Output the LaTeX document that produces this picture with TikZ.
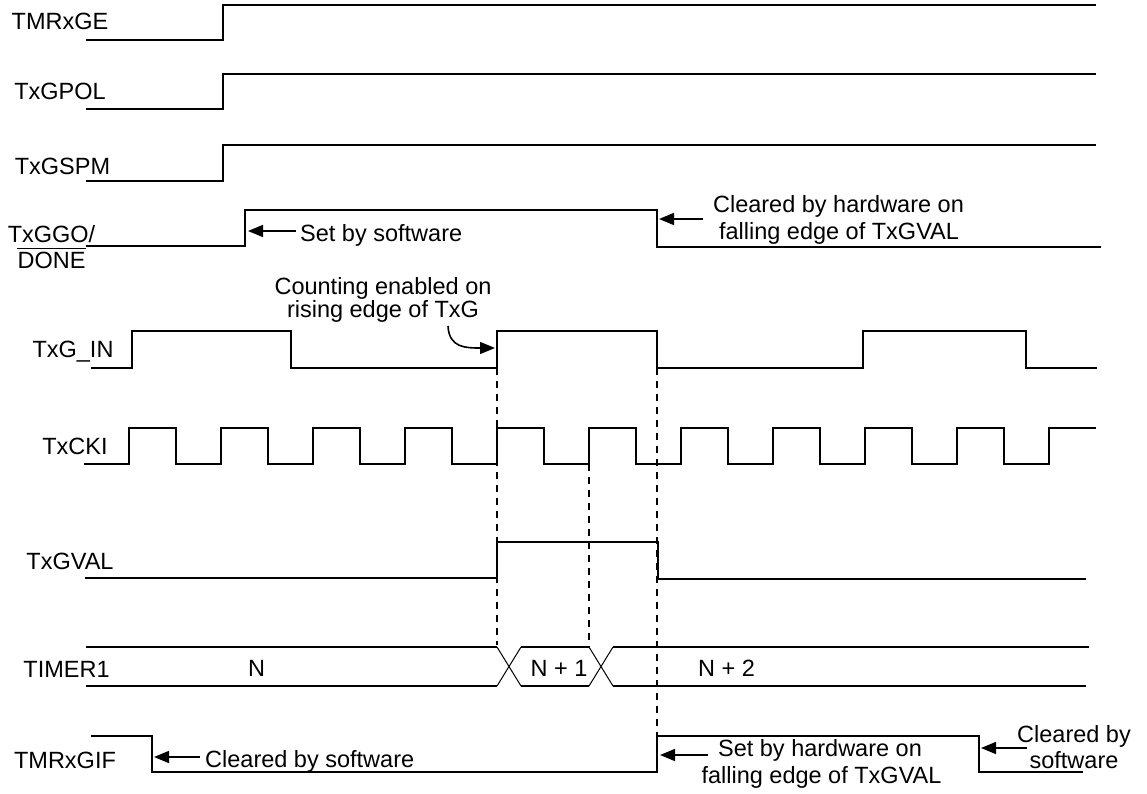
\documentclass[tikz,border=0pt]{standalone}
\usepackage{fontspec}
\setmainfont{Liberation Sans}
\usetikzlibrary{arrows.meta}
\begin{document}
\begin{tikzpicture}[x=1pt,y=-1pt,
  wave/.style={line width=2.2pt, line join=miter},
  xline/.style={line width=1pt},
  guide/.style={line width=2pt, dash pattern=on 7pt off 6pt},
  note/.style={-{Triangle[length=15pt,width=12pt]}, line width=1.6pt},
  lbl/.style={inner sep=0pt, anchor=base, font=\fontsize{23.5}{28}\selectfont}]
\useasboundingbox (0,0) rectangle (1147,794);

% signal names
\node[lbl] (nge)   at (60,29.3)  {TMRxGE};
\node[lbl] (npol)  at (60,100)   {TxGPOL};
\node[lbl] (nspm)  at (62.5,175) {TxGSPM};
\node[lbl] (ngo)   at (51.5,242) {TxGGO/};
\node[lbl] (ndone) at (51.5,268) {DONE};
\draw[line width=1.6pt] ([yshift=3pt]ndone.north west) -- ([yshift=3pt]ndone.north east);
\node[lbl] (nin)   at (73,357)   {TxG\_IN};
\node[lbl] (ncki)  at (75,454)   {TxCKI};
\node[lbl] (nval)  at (70,569)   {TxGVAL};
\node[lbl] (ntmr)  at (66.5,677) {TIMER1};
\node[lbl] (ngif)  at (65,768)   {TMRxGIF};

% waveforms
\draw[wave] (86,40) -- (223,40) -- (223,5) -- (1096,5);
\draw[wave] (86,109) -- (223,109) -- (223,74) -- (1096,74);
\draw[wave] (86,181) -- (223,181) -- (223,145) -- (1096,145);
\draw[wave] (86,246) -- (245,246) -- (245,210) -- (657,210) -- (657,247) -- (1101,247);
\draw[wave] (91,368) -- (132,368) -- (132,331) -- (291,331) -- (291,368) -- (497,368)
  -- (497,331) -- (657,331) -- (657,368) -- (863,368) -- (863,331) -- (1026,331)
  -- (1026,368) -- (1097,368);
% TxCKI clock
\draw[wave] (84,464)
  \foreach \i in {0,...,9} {
    -- ({129+92*\i},464) -- ({129+92*\i},428) -- ({176+92*\i},428) -- ({176+92*\i},464)
  }
  -- (1049,464) -- (1049,428) -- (1096,428);
\draw[wave] (85,578) -- (497,578) -- (497,542) -- (658,542) -- (658,579) -- (1086,579);
% TIMER1 bus
\draw[wave] (86,647) -- (497,647);
\draw[wave] (521,647) -- (589,647);
\draw[wave] (613,647) -- (1089,647);
\draw[wave] (86,686) -- (497,686);
\draw[wave] (521,686) -- (589,686);
\draw[wave] (613,686) -- (1086,686);
\draw[xline] (497,647) -- (521,686);
\draw[xline] (497,686) -- (521,647);
\draw[xline] (589,647) -- (613,686);
\draw[xline] (589,686) -- (613,647);
\node[lbl] (vn)  at (256.5,676) {N};
\node[lbl] (vn1) at (559,676)   {N + 1};
\node[lbl] (vn2) at (726.5,676) {N + 2};
% TMRxGIF
\draw[wave] (91,736) -- (152,736) -- (152,772) -- (657,772) -- (657,736) -- (979,736)
  -- (979,772) -- (1083,772);

% dashed guides
\draw[guide] (497,368) -- (497,645);
\draw[guide] (589,464) -- (589,647);
\draw[guide] (657,368) -- (657,736);

% annotations
\node[lbl, anchor=base west] (tsetsw) at (300,241) {Set by software};
\coordinate (setswtail) at (296,231);
\coordinate (setswtip) at (248,231);
\draw[note] (setswtail) -- (setswtip);

\node[lbl] (tclrhw1) at (838.5,212.7) {Cleared by hardware on};
\node[lbl] (tclrhw2) at (839,240) {falling edge of TxGVAL};
\coordinate (clrhwtail) at (703,219);
\coordinate (clrhwtip) at (659,219);
\draw[note] (clrhwtail) -- (clrhwtip);

\node[lbl, anchor=north, align=center, font=\fontsize{23.5}{21}\selectfont]
  (tcnt) at (383,277.5) {Counting enabled on\\rising edge of TxG};
\coordinate (cnttail) at (448,326);
\coordinate (cnttip) at (495,348);
\draw[note] (cnttail) .. controls (449,348) and (466,348) .. (cnttip);

\node[lbl, anchor=base west] (tclrsw) at (205,767.7) {Cleared by software};
\coordinate (clrswtail) at (200,757);
\coordinate (clrswtip) at (154,757);
\draw[note] (clrswtail) -- (clrswtip);

\node[lbl] (tsethw1) at (820,756) {Set by hardware on};
\node[lbl] (tsethw2) at (821.5,783) {falling edge of TxGVAL};
\coordinate (sethwtail) at (708,755);
\coordinate (sethwtip) at (660,755);
\draw[note] (sethwtail) -- (sethwtip);

\node[lbl] (tclr1) at (1074,742) {Cleared by};
\node[lbl] (tclr2) at (1074,768) {software};
\coordinate (clrtail) at (1027,748);
\coordinate (clrtip) at (981,748);
\draw[note] (clrtail) -- (clrtip);
\end{tikzpicture}
\end{document}
